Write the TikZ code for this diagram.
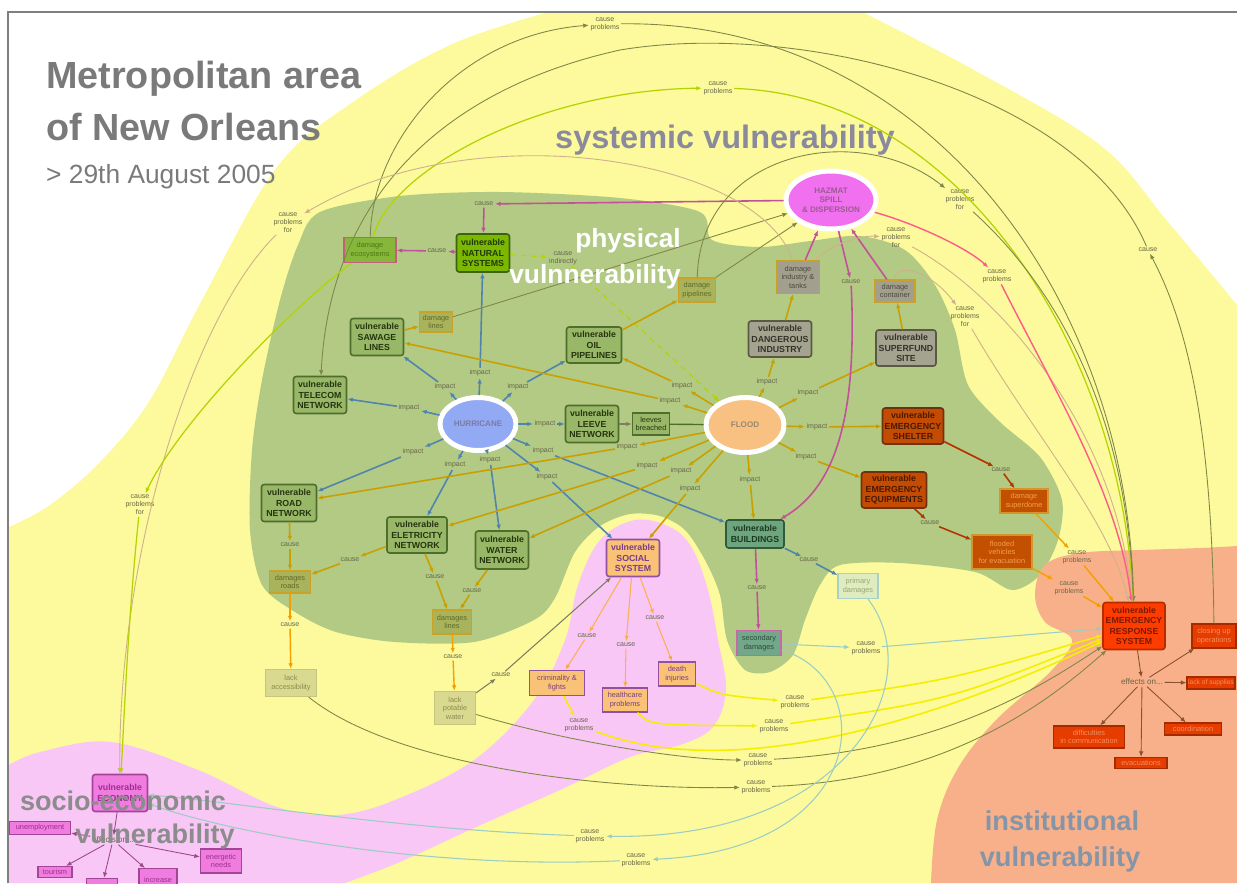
\documentclass[tikz,border=0pt]{standalone}
\usepackage{fontspec}
\setmainfont{Liberation Sans}
\usetikzlibrary{arrows.meta}
\usetikzlibrary{positioning,shapes.geometric}

\definecolor{yelc}{HTML}{FCFA9C}
\definecolor{grnc}{HTML}{B3CA84}
\definecolor{pnkc}{HTML}{F9C7F6}
\definecolor{orgc}{HTML}{F8B08A}
\definecolor{framec}{HTML}{7F7F7F}
\definecolor{titlec}{HTML}{7A7A7A}
\definecolor{sysc}{HTML}{8A8A9C}
\definecolor{socc}{HTML}{8C8C8C}
\definecolor{instc}{HTML}{8595A8}
\definecolor{lblc}{HTML}{66664A}
\definecolor{vgfill}{HTML}{98B868}
\definecolor{vgline}{HTML}{4F6E2B}
\definecolor{vgtext}{HTML}{26330F}
\definecolor{natfill}{HTML}{7CB800}
\definecolor{natline}{HTML}{3C6410}
\definecolor{nattext}{HTML}{1F3A05}
\definecolor{gyfill}{HTML}{A4A38F}
\definecolor{gyline}{HTML}{5A5A44}
\definecolor{gytext}{HTML}{33332A}
\definecolor{emfill}{HTML}{C44B02}
\definecolor{emline}{HTML}{6E3210}
\definecolor{emtext}{HTML}{4A1A00}
\definecolor{dmfill}{HTML}{A9B35C}
\definecolor{dmline}{HTML}{C9A227}
\definecolor{dmtext}{HTML}{5E6A2A}
\definecolor{dgfill}{HTML}{A29F8E}
\definecolor{dgtext}{HTML}{4A4A3A}
\definecolor{ecfill}{HTML}{86B63A}
\definecolor{ecline}{HTML}{C0607A}
\definecolor{ectext}{HTML}{4A7A10}
\definecolor{sdfill}{HTML}{C25000}
\definecolor{sdline}{HTML}{D4962A}
\definecolor{sdtext}{HTML}{F0A050}
\definecolor{bldfill}{HTML}{6EA57E}
\definecolor{bldline}{HTML}{2E5C38}
\definecolor{bldtext}{HTML}{1A3A22}
\definecolor{primfill}{HTML}{DDEDC0}
\definecolor{primline}{HTML}{A8D0C8}
\definecolor{primtext}{HTML}{9BA46E}
\definecolor{lackfill}{HTML}{D9D98F}
\definecolor{lackline}{HTML}{C6C47F}
\definecolor{lacktext}{HTML}{8E8C55}
\definecolor{socfill}{HTML}{F9C276}
\definecolor{socline}{HTML}{9250A0}
\definecolor{soctext}{HTML}{7A3C8C}
\definecolor{secfill}{HTML}{73A78A}
\definecolor{secline}{HTML}{C468A8}
\definecolor{sectext}{HTML}{2A4A3A}
\definecolor{ersfill}{HTML}{FF3C00}
\definecolor{ersline}{HTML}{B42C00}
\definecolor{erstext}{HTML}{7C1A00}
\definecolor{effill}{HTML}{E63C00}
\definecolor{efline}{HTML}{A42A00}
\definecolor{eftext}{HTML}{F29060}
\definecolor{ecofill}{HTML}{F07CE0}
\definecolor{ecoline}{HTML}{A44496}
\definecolor{ecotext}{HTML}{9C2E8E}
\definecolor{hurfill}{HTML}{92A9F3}
\definecolor{hurtext}{HTML}{7A7AA6}
\definecolor{flofill}{HTML}{F9C181}
\definecolor{flotext}{HTML}{9A8670}
\definecolor{hzfill}{HTML}{F170F0}
\definecolor{hztext}{HTML}{9A5C8E}
\definecolor{blu}{HTML}{4F84AE}
\definecolor{gld}{HTML}{C9A000}
\definecolor{pnkl}{HTML}{C2509A}
\definecolor{hot}{HTML}{FF5A8A}
\definecolor{olv}{HTML}{7F8748}
\definecolor{ygr}{HTML}{B5D300}
\definecolor{ylw}{HTML}{F5EE00}
\definecolor{tanc}{HTML}{D0B08A}
\definecolor{tea}{HTML}{9CCCC4}
\definecolor{rbr}{HTML}{B53500}
\definecolor{orlc}{HTML}{F5A000}
\definecolor{orac}{HTML}{F8B050}
\definecolor{gyl}{HTML}{7E7E60}
\definecolor{brn}{HTML}{8A5030}
\definecolor{mgl}{HTML}{9A4A8A}

\begin{document}
\begin{tikzpicture}[x=0.02cm,y=-0.02cm]
  \tikzset{
    lbl/.style={align=center,inner sep=0.8pt,text=lblc,font=\fontsize{4}{4.6}\selectfont},
    vbox/.style={rectangle,rounded corners=1.5pt,line width=0.9pt,align=center,inner sep=0.5pt,
      minimum width=1.06cm,minimum height=0.74cm,font=\fontsize{5}{5.9}\selectfont\bfseries},
    vgreen/.style={vbox,fill=vgfill,draw=vgline,text=vgtext},
    vnat/.style={vbox,fill=natfill,draw=natline,text=nattext,minimum height=0.76cm},
    vgray/.style={vbox,fill=gyfill,draw=gyline,text=gytext,minimum height=0.72cm},
    vemer/.style={vbox,fill=emfill,draw=emline,text=emtext,minimum height=0.72cm},
    dbox/.style={rectangle,line width=0.7pt,align=center,inner sep=0.5pt,font=\fontsize{4.2}{4.9}\selectfont},
    dolive/.style={dbox,fill=dmfill,draw=dmline,text=dmtext},
    dgray/.style={dbox,fill=dgfill,draw=dmline,text=dgtext},
    dgreco/.style={dbox,fill=ecfill,draw=ecline,text=ectext},
    dsuper/.style={dbox,fill=sdfill,draw=sdline,text=sdtext},
    dlack/.style={dbox,fill=lackfill,draw=lackline,text=lacktext},
    dsoc/.style={dbox,fill=socfill,draw=socline,text=soctext},
    deff/.style={dbox,fill=effill,draw=efline,text=eftext},
    deco/.style={dbox,fill=ecofill,draw=ecoline,text=ecotext},
    hazard/.style={ellipse,draw=white,line width=0.1cm,inner sep=0pt,align=center,font=\fontsize{4.6}{5.4}\selectfont\bfseries},
    arr/.style={-{Latex[length=1.1mm,width=0.9mm]}},
    bl/.style={arr,draw=blu,line width=0.9pt},
    gd/.style={arr,draw=gld,line width=0.9pt},
    pk/.style={arr,draw=pnkl,line width=0.9pt},
    rb/.style={arr,draw=rbr,line width=0.9pt},
    orl/.style={arr,draw=orlc,line width=0.8pt},
    ora/.style={arr,draw=orac,line width=0.6pt},
    gy/.style={arr,draw=gyl,line width=0.6pt},
    ol/.style={arr,draw=olv,line width=0.5pt},
    yg/.style={arr,draw=ygr,line width=0.7pt},
    yw/.style={arr,draw=ylw,line width=0.9pt},
    tn/.style={arr,draw=tanc,line width=0.5pt},
    te/.style={arr,draw=tea,line width=0.6pt},
    hp/.style={arr,draw=hot,line width=0.8pt},
    br/.style={arr,draw=brn,line width=0.5pt},
    mg/.style={arr,draw=mgl,line width=0.5pt},
  }
  \useasboundingbox (0,0) rectangle (1237,883);

  \begin{scope}
    \clip (9,13) rectangle (1237,883);
    \fill[yelc] (9,883) -- plot[smooth,tension=0.6] coordinates {(9,527) (50,505) (100,462) (150,400) (202,300) (277,167) (356,100) (450,45) (545,13)}
      -- (864,13) -- plot[smooth,tension=0.6] coordinates {(864,13) (974,70) (1100,145) (1168,222) (1237,305)} -- (1237,883) -- cycle;
    \fill[grnc] plot[smooth cycle,tension=0.5] coordinates {(320,212) (400,196) (500,192) (620,198) (700,212) (712,240) (760,247)
      (810,241) (860,236) (905,250) (935,285) (955,330) (968,385) (1000,422) (1040,457) (1062,500) (1058,540) (1040,575)
      (1012,590) (975,572) (900,563) (840,565) (820,585) (805,620) (793,655) (770,672) (745,670) (727,640) (720,595)
      (705,560) (685,530) (660,516) (630,514) (600,526) (575,552) (555,598) (534,620) (474,642) (395,642) (336,632)
      (295,612) (262,585) (250,530) (252,450) (262,380) (280,300) (298,245)};
    \fill[pnkc] (9,883) -- plot[smooth,tension=0.6] coordinates {(9,765) (40,752) (111,742) (198,770) (277,807) (336,815) (395,800)
      (474,760) (534,700) (565,640) (578,585) (600,540) (635,520) (670,527) (692,548) (708,590) (718,640) (726,690)
      (713,727) (680,745) (630,757) (560,790) (474,828) (400,862) (345,883)} -- cycle;
    \fill[orgc] (931,883) -- plot[smooth,tension=0.6] coordinates {(931,883) (937,820) (958,768) (996,720) (1050,672) (1072,640)
      (1045,622) (1035,595) (1045,565) (1080,553) (1140,550) (1200,548) (1237,546)} -- (1237,883) -- cycle;
  \end{scope}
  \draw[framec,line width=0.04cm] (8,883) -- (8,12) -- (1237,12);

  \node[anchor=base west,text=titlec,font=\fontsize{21.5}{24}\selectfont\bfseries] (T1) at (40,88) {Metropolitan area};
  \node[anchor=base west,text=titlec,font=\fontsize{21.5}{24}\selectfont\bfseries] (T2) at (40,140) {of New Orleans};
  \node[anchor=base west,text=titlec,font=\fontsize{15}{18}\selectfont] (T3) at (40,183) {> 29th August 2005};
  \node[anchor=base,text=sysc,font=\fontsize{18.5}{22}\selectfont\bfseries] (SV) at (725,148) {systemic vulnerability};

  \node[dgreco,minimum width=1.04cm,minimum height=0.5cm] (ECOSYS) at (370,250) {damage\\ecosystems};
  \node[vnat] (NAT) at (483,253) {vulnerable\\NATURAL\\SYSTEMS};
  \node[vgreen] (SAW) at (377,337) {vulnerable\\SAWAGE\\LINES};
  \node[dolive,minimum width=0.66cm,minimum height=0.4cm] (DL) at (436,322) {damage\\lines};
  \node[vgreen,minimum width=1.1cm,minimum height=0.72cm] (OIL) at (594,345) {vulnerable\\OIL\\PIPELINES};
  \node[vgreen] (TEL) at (320,395) {vulnerable\\TELECOM\\NETWORK};
  \node[hazard,fill=hurfill,text=hurtext,minimum width=1.52cm,minimum height=1.06cm] (HUR) at (478,424) {HURRICANE};
  \node[vgreen] (LEE) at (592,424) {vulnerable\\LEEVE\\NETWORK};
  \node[dbox,fill=vgfill,draw=vgline,text=vgtext,minimum width=0.74cm,minimum height=0.44cm] (LB) at (651,424) {leeves\\breached};
  \node[hazard,fill=flofill,text=flotext,minimum width=1.56cm,minimum height=1.1cm] (FLO) at (745,425) {FLOOD};
  \node[vgray,minimum width=1.26cm] (DI) at (780,339) {vulnerable\\DANGEROUS\\INDUSTRY};
  \node[vgray,minimum width=1.2cm] (SUP) at (906,348) {vulnerable\\SUPERFUND\\SITE};
  \node[dolive,minimum width=0.74cm,minimum height=0.48cm] (DP) at (697,290) {damage\\pipelines};
  \node[dgray,minimum width=0.86cm,minimum height=0.66cm] (DIT) at (798,277) {damage\\industry \&\\tanks};
  \node[dgray,minimum width=0.8cm,minimum height=0.44cm] (DC) at (895,291) {damage\\container};
  \node[hazard,fill=hzfill,text=hztext,minimum width=1.8cm,minimum height=1.16cm] (HZ) at (831,200) {HAZMAT\\SPILL\\\& DISPERSION};
  \node[vemer,minimum width=1.22cm] (SHE) at (913,426) {vulnerable\\EMERGENCY\\SHELTER};
  \node[vemer,minimum width=1.3cm] (EQU) at (894,490) {vulnerable\\EMERGENCY\\EQUIPMENTS};
  \node[dsuper,minimum width=0.96cm,minimum height=0.48cm] (SD) at (1024,501) {damage\\superdome};
  \node[dsuper,minimum width=1.2cm,minimum height=0.68cm] (FV) at (1002,552) {flooded\\vehicles\\for evacuation};
  \node[vbox,fill=bldfill,draw=bldline,text=bldtext,minimum width=1.16cm,minimum height=0.56cm] (BLD) at (755,534) {vulnerable\\BUILDINGS};
  \node[dbox,fill=primfill,draw=primline,text=primtext,minimum width=0.8cm,minimum height=0.5cm] (PRIM) at (858,586) {primary\\damages};
  \node[vbox,fill=socfill,draw=socline,text=soctext] (SOC) at (633,558) {vulnerable\\SOCIAL\\SYSTEM};
  \node[vgreen,minimum width=1.1cm] (ROAD) at (289,503) {vulnerable\\ROAD\\NETWORK};
  \node[vgreen,minimum width=1.2cm,minimum height=0.72cm] (ELE) at (417,535) {vulnerable\\ELETRICITY\\NETWORK};
  \node[vgreen,minimum height=0.76cm] (WAT) at (502,550) {vulnerable\\WATER\\NETWORK};
  \node[dolive,minimum width=0.82cm,minimum height=0.44cm] (DR) at (290,582) {damages\\roads};
  \node[dolive,minimum width=0.78cm,minimum height=0.48cm] (DLS) at (452,622) {damages\\lines};
  \node[dlack,minimum width=1.02cm,minimum height=0.54cm] (LA) at (291,683) {lack\\accessibility};
  \node[dlack,minimum width=0.82cm,minimum height=0.66cm] (LPW) at (455,708) {lack\\potable\\water};
  \node[dsoc,minimum width=1.1cm,minimum height=0.5cm] (CRIM) at (557,683) {criminality \&\\fights};
  \node[dsoc,minimum width=0.9cm,minimum height=0.48cm] (HEAL) at (625,700) {healthcare\\problems};
  \node[dsoc,minimum width=0.74cm,minimum height=0.48cm] (DEAD) at (677,674) {death\\injuries};
  \node[dbox,fill=secfill,draw=secline,text=sectext,minimum width=0.88cm,minimum height=0.5cm] (SEC) at (759,643) {secondary\\damages};
  \node[vbox,fill=ersfill,draw=ersline,text=erstext,minimum width=1.24cm,minimum height=0.94cm] (ERS) at (1134,626) {vulnerable\\EMERGENCY\\RESPONSE\\SYSTEM};
  \node[lbl,font=\fontsize{4.6}{5.4}\selectfont] (EFF) at (1142,682) {effects on...};
  \node[deff,minimum width=0.88cm,minimum height=0.48cm] (CUO) at (1214,636) {closing up\\operations};
  \node[deff,minimum width=0.96cm,minimum height=0.24cm,font=\fontsize{3.8}{4.4}\selectfont] (LOS) at (1211,683) {lack of supplies};
  \node[deff,minimum width=1.42cm,minimum height=0.44cm] (DIF) at (1089,737) {difficulties\\in communication};
  \node[deff,minimum width=1.14cm,minimum height=0.24cm] (COO) at (1193,729) {coordination};
  \node[deff,minimum width=1.04cm,minimum height=0.22cm] (EVA) at (1141,763) {evacuations};
  \node[vbox,fill=ecofill,draw=ecoline,text=ecotext,minimum width=1.1cm] (ECO) at (120,793) {vulnerable\\ECONOMY};
  \node[lbl,font=\fontsize{4.6}{5.4}\selectfont] (EFF2) at (113,840) {effects on...};
  \node[deco,minimum width=1.22cm,minimum height=0.26cm] (UNE) at (40,828) {unemployment};
  \node[deco,minimum width=0.68cm,minimum height=0.22cm] (TOU) at (55,872) {tourism};
  \node[deco,minimum width=0.62cm,minimum height=0.3cm] (XX) at (102,886) {};
  \node[deco,minimum width=0.76cm,minimum height=0.44cm,anchor=north] (INC) at (158,868) {increase};
  \node[deco,minimum width=0.82cm,minimum height=0.48cm] (ENE) at (221,861) {energetic\\needs};

  \node[lbl] (i1) at (480,373) {impact};
  \node[lbl] (i2) at (445,387) {impact};
  \node[lbl] (i3) at (518,387) {impact};
  \node[lbl] (i4) at (409,408) {impact};
  \node[lbl] (i5) at (545,424) {impact};
  \node[lbl] (i6) at (413,452) {impact};
  \node[lbl] (i7) at (455,465) {impact};
  \node[lbl] (i8) at (490,460) {impact};
  \node[lbl] (i9) at (547,477) {impact};
  \node[lbl] (i10) at (543,451) {impact};
  \node[lbl] (f1) at (682,386) {impact};
  \node[lbl] (f2) at (670,401) {impact};
  \node[lbl] (f3) at (627,447) {impact};
  \node[lbl] (f4) at (647,466) {impact};
  \node[lbl] (f5) at (681,471) {impact};
  \node[lbl] (f6) at (690,489) {impact};
  \node[lbl] (f7) at (750,480) {impact};
  \node[lbl] (f8) at (767,382) {impact};
  \node[lbl] (f9) at (808,393) {impact};
  \node[lbl] (f10) at (817,427) {impact};
  \node[lbl] (f11) at (806,457) {impact};
  \node[lbl] (c1) at (484,204) {cause};
  \node[lbl] (c2) at (437,251) {cause};
  \node[lbl] (ci) at (563,258) {cause\\indirectly};
  \node[lbl] (c3) at (851,282) {cause};
  \node[lbl] (c4) at (290,545) {cause};
  \node[lbl] (c5) at (350,560) {cause};
  \node[lbl] (c6) at (435,577) {cause};
  \node[lbl] (c7) at (472,591) {cause};
  \node[lbl] (c8) at (290,625) {cause};
  \node[lbl] (c9) at (453,657) {cause};
  \node[lbl] (c10) at (501,675) {cause};
  \node[lbl] (c11) at (587,636) {cause};
  \node[lbl] (c12) at (626,645) {cause};
  \node[lbl] (c13) at (655,618) {cause};
  \node[lbl] (c14) at (757,588) {cause};
  \node[lbl] (c15) at (809,560) {cause};
  \node[lbl] (c16) at (1001,470) {cause};
  \node[lbl] (c17) at (930,523) {cause};
  \node[lbl] (c18) at (1148,250) {cause};
  \node[lbl] (cp1) at (1077,557) {cause\\problems};
  \node[lbl] (cp2) at (1069,588) {cause\\problems};
  \node[lbl] (cp3) at (866,648) {cause\\problems};
  \node[lbl] (cp4) at (795,702) {cause\\problems};
  \node[lbl] (cp5) at (774,726) {cause\\problems};
  \node[lbl] (cp6) at (579,725) {cause\\problems};
  \node[lbl] (cp7) at (758,760) {cause\\problems};
  \node[lbl] (cp8) at (756,787) {cause\\problems};
  \node[lbl] (cp9) at (636,860) {cause\\problems};
  \node[lbl] (cp10) at (590,836) {cause\\problems};
  \node[lbl] (cp11) at (605,24) {cause\\problems};
  \node[lbl] (cp12) at (718,88) {cause\\problems};
  \node[lbl] (cp13) at (997,276) {cause\\problems};
  \node[lbl] (cpf1) at (288,223) {cause\\problems\\for};
  \node[lbl] (cpf2) at (140,505) {cause\\problems\\for};
  \node[lbl] (cpf3) at (960,200) {cause\\problems\\for};
  \node[lbl] (cpf4) at (896,238) {cause\\problems\\for};
  \node[lbl] (cpf5) at (965,317) {cause\\problems\\for};

  \draw[bl] (HUR) -- (i1) edge (NAT);
  \draw[bl] (HUR) -- (i2) edge (SAW);
  \draw[bl] (HUR) -- (i3) edge (OIL);
  \draw[bl] (HUR) -- (i4) edge (TEL);
  \draw[bl] (HUR) -- (i5) edge (LEE);
  \draw[bl] (HUR) -- (i6) edge (ROAD);
  \draw[bl] (HUR) -- (i7) edge (ELE);
  \draw[bl] (HUR) -- (i8) edge (WAT);
  \draw[bl] (HUR) -- (i9) edge (SOC);
  \draw[bl] (HUR) -- (i10) edge (BLD);
  \draw[gd] (FLO) -- (f1) edge (OIL);
  \draw[gd] (FLO) -- (f2) edge (SAW);
  \draw[gd] (FLO) -- (f3) edge (ROAD);
  \draw[gd] (FLO) -- (f4) edge (ELE);
  \draw[gd] (FLO) -- (f5) edge (WAT);
  \draw[gd] (FLO) -- (f6) edge (SOC);
  \draw[gd] (FLO) -- (f7) edge (BLD);
  \draw[gd] (FLO) -- (f8) edge (DI);
  \draw[gd] (FLO) -- (f9) edge (SUP);
  \draw[gd] (FLO) -- (f10) edge (SHE);
  \draw[gd] (FLO) -- (f11) edge (EQU);
  \draw[gy] (LEE) -- (LB);
  \draw[draw=vgline,line width=0.8pt] (LB) -- (FLO);

  \draw[pk] (HZ) -- (c1) edge (NAT);
  \draw[pk] (NAT) -- (c2) edge (ECOSYS);
  \draw[yg,dashed] (NAT) -- (ci) edge (FLO);
  \draw[pk] (HZ) -- (c3);
  \draw[pk] (c3) .. controls (858,430) and (830,490) .. (BLD);
  \draw[gd] (SAW) -- (DL);
  \draw[ol] (DL) -- (HZ);
  \draw[gd] (OIL) -- (DP);
  \draw[ol] (DP) -- (HZ);
  \draw[gd] (DI) -- (DIT);
  \draw[gd] (SUP) -- (DC);
  \draw[pk] (DIT) -- (HZ);
  \draw[pk] (DC) -- (HZ);

  \draw[rb] (SHE) -- (c16) edge (SD);
  \draw[rb] (EQU) -- (c17) edge (FV);
  \draw[orl] (SD) -- (cp1) edge (ERS);
  \draw[orl] (FV) -- (cp2) edge (ERS);

  \draw[gd] (ROAD) -- (c4) edge (DR);
  \draw[gd] (ELE) -- (c5) edge (DR);
  \draw[gd] (ELE) -- (c6) edge (DLS);
  \draw[gd] (WAT) -- (c7) edge (DLS);
  \draw[orl] (DR) -- (c8) edge (LA);
  \draw[orl] (DLS) -- (c9) edge (LPW);
  \draw[gy] (LPW) -- (c10) edge (SOC);
  \draw[ora] (SOC) -- (c11) edge (CRIM);
  \draw[ora] (SOC) -- (c12) edge (HEAL);
  \draw[ora] (SOC) -- (c13) edge (DEAD);
  \draw[pk] (BLD) -- (c14) edge (SEC);
  \draw[bl] (BLD) -- (c15) edge (PRIM);

  \draw[te] (SEC) -- (cp3) edge (ERS);
  \draw[yw] (DEAD) .. controls (720,695) .. (cp4);
  \draw[yw] (cp4) .. controls (950,680) .. (ERS);
  \draw[yw] (HEAL) .. controls (650,725) .. (cp5);
  \draw[yw] (cp5) .. controls (950,700) .. (ERS);
  \draw[yw] (CRIM) -- (cp6);
  \draw[yw] (cp6) .. controls (750,790) and (980,700) .. (ERS);
  \draw[ol] (LPW) .. controls (560,740) and (680,760) .. (cp7);
  \draw[ol] (cp7) .. controls (950,750) and (1050,680) .. (ERS);
  \draw[ol] (LA) .. controls (400,770) and (620,790) .. (cp8);
  \draw[ol] (cp8) .. controls (950,780) and (1050,700) .. (ERS);
  \draw[te] (SEC) .. controls (880,680) and (870,850) .. (cp9);
  \draw[te] (cp9) .. controls (420,870) and (220,830) .. (ECO);
  \draw[te] (PRIM) .. controls (930,680) and (850,840) .. (cp10);
  \draw[te] (cp10) .. controls (400,830) and (220,800) .. (ECO);

  \draw[ol] (ECOSYS) .. controls (372,140) and (460,35) .. (cp11);
  \draw[ol] (cp11) .. controls (930,20) and (1128,300) .. (ERS);
  \draw[yg] (ECOSYS) .. controls (390,170) and (540,90) .. (cp12);
  \draw[yg] (cp12) .. controls (960,95) and (1122,350) .. (ERS);
  \draw[ol] (CUO) .. controls (1212,420) and (1185,320) .. (c18);
  \draw[ol] (c18) .. controls (1080,90) and (800,20) .. (620,50) .. controls (440,90) and (330,200) .. (TEL);
  \draw[tn] (DIT) .. controls (760,160) and (480,110) .. (cpf1);
  \draw[tn] (cpf1) .. controls (190,320) and (118,560) .. (ECO);
  \draw[yg] (ECOSYS) .. controls (300,300) and (180,420) .. (cpf2);
  \draw[yg] (cpf2) .. controls (128,620) and (124,720) .. (ECO);
  \draw[ol] (DP) .. controls (700,150) and (860,120) .. (cpf3);
  \draw[ol] (cpf3) .. controls (1060,290) and (1128,420) .. (ERS);
  \draw[tn] (DIT) .. controls (830,245) and (860,235) .. (cpf4);
  \draw[tn] (cpf4) .. controls (1010,300) and (1118,440) .. (ERS);
  \draw[hp] (HZ) .. controls (920,225) and (970,250) .. (cp13);
  \draw[hp] (cp13) .. controls (1060,400) and (1120,500) .. (ERS);
  \draw[tn] (DC) .. controls (895,262) and (930,270) .. (cpf5);
  \draw[tn] (cpf5) .. controls (1030,430) and (1110,520) .. (ERS);

  \draw[br] (ERS) -- (EFF);
  \draw[br] (EFF) -- (CUO);
  \draw[br] (EFF) -- (LOS);
  \draw[br] (EFF) -- (DIF);
  \draw[br] (EFF) -- (EVA);
  \draw[br] (EFF) -- (COO);
  \draw[mg] (ECO) -- (EFF2);
  \draw[mg] (EFF2) -- (UNE);
  \draw[mg] (EFF2) -- (TOU);
  \draw[mg] (EFF2) -- (XX);
  \draw[mg] (EFF2) -- (INC);
  \draw[mg] (EFF2) -- (ENE);

  \node[anchor=base,text=white,font=\fontsize{15}{18}\selectfont\bfseries] (PV1) at (628,247) {physical};
  \node[anchor=base,text=white,font=\fontsize{15}{18}\selectfont\bfseries] (PV2) at (595,283) {vulnnerability};
  \node[anchor=base,text=socc,font=\fontsize{15.4}{18}\selectfont\bfseries] (SE1) at (123,810) {socio-economic};
  \node[anchor=base,text=socc,font=\fontsize{15.4}{18}\selectfont\bfseries] (SE2) at (155,843) {vulnerability};
  \node[anchor=base,text=instc,font=\fontsize{15.5}{18}\selectfont\bfseries] (IV1) at (1062,830) {institutional};
  \node[anchor=base,text=instc,font=\fontsize{15.5}{18}\selectfont\bfseries] (IV2) at (1060,866) {vulnerability};
\end{tikzpicture}
\end{document}
